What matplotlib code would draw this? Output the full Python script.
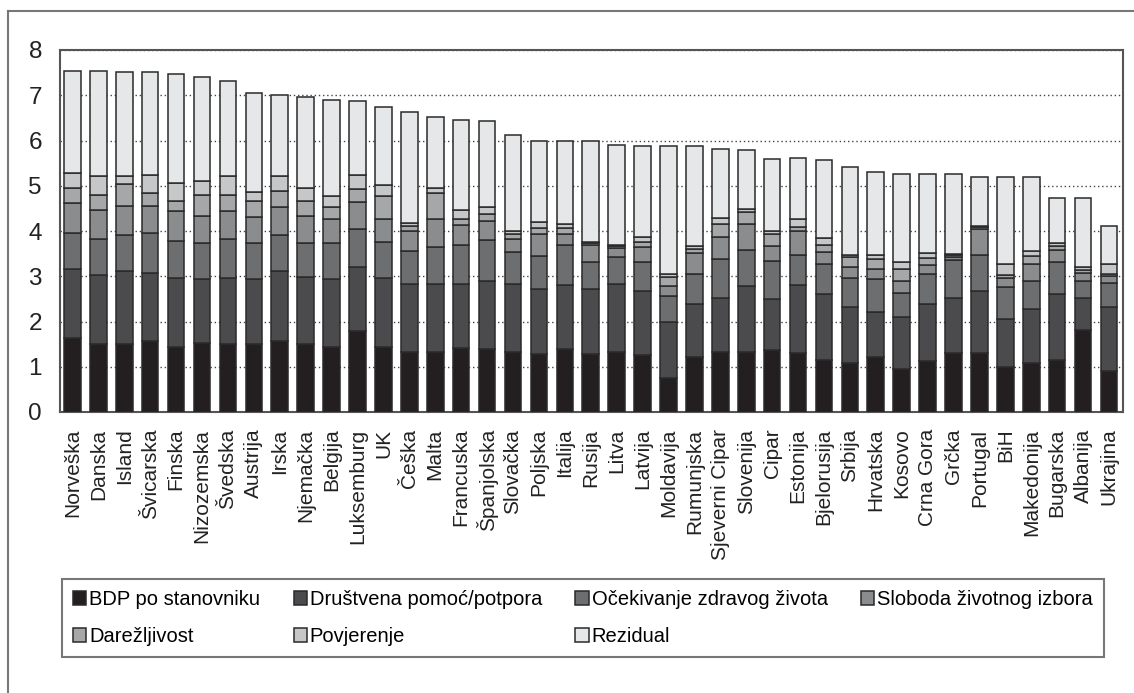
import numpy as np
import matplotlib
matplotlib.use("Agg")
from matplotlib import pyplot as plt
from matplotlib.lines import Line2D

plt.rcParams['font.family'] = ['Liberation Sans', 'DejaVu Sans']

countries = ["Norveška", "Danska", "Island", "Švicarska", "Finska", "Nizozemska",
             "Švedska", "Austrija", "Irska", "Njemačka", "Belgija", "Luksemburg",
             "UK", "Češka", "Malta", "Francuska", "Španjolska", "Slovačka",
             "Poljska", "Italija", "Rusija", "Litva", "Latvija", "Moldavija",
             "Rumunjska", "Sjeverni Cipar", "Slovenija", "Cipar", "Estonija",
             "Bjelorusija", "Srbija", "Hrvatska", "Kosovo", "Crna Gora", "Grčka",
             "Portugal", "BiH", "Makedonija", "Bugarska", "Albanija", "Ukrajina"]

# contributions
bdp = [1.63, 1.50, 1.50, 1.56, 1.44, 1.52, 1.50, 1.50, 1.56, 1.50, 1.44, 1.78,
       1.44, 1.32, 1.32, 1.41, 1.39, 1.32, 1.28, 1.39, 1.28, 1.32, 1.26, 0.76,
       1.22, 1.32, 1.32, 1.37, 1.31, 1.16, 1.09, 1.22, 0.94, 1.13, 1.30, 1.31,
       0.99, 1.09, 1.16, 1.81, 0.91]
drustvena = [1.52, 1.52, 1.61, 1.51, 1.52, 1.41, 1.46, 1.43, 1.55, 1.49, 1.50, 1.43,
             1.52, 1.51, 1.51, 1.42, 1.50, 1.51, 1.44, 1.42, 1.44, 1.51, 1.42, 1.24,
             1.17, 1.21, 1.47, 1.13, 1.50, 1.45, 1.22, 0.98, 1.15, 1.26, 1.23, 1.36,
             1.06, 1.18, 1.45, 0.71, 1.40]
ocekivanje = [0.80, 0.81, 0.80, 0.88, 0.82, 0.81, 0.87, 0.81, 0.80, 0.75, 0.80, 0.83,
              0.80, 0.72, 0.81, 0.87, 0.92, 0.70, 0.72, 0.89, 0.60, 0.60, 0.63, 0.57,
              0.66, 0.86, 0.79, 0.83, 0.67, 0.65, 0.65, 0.73, 0.55, 0.65, 0.82, 0.81,
              0.71, 0.62, 0.70, 0.37, 0.54]
sloboda = [0.66, 0.63, 0.65, 0.61, 0.66, 0.59, 0.61, 0.58, 0.61, 0.59, 0.53, 0.61,
           0.50, 0.45, 0.62, 0.43, 0.41, 0.30, 0.49, 0.24, 0.37, 0.20, 0.33, 0.21,
           0.47, 0.48, 0.57, 0.34, 0.52, 0.27, 0.24, 0.23, 0.26, 0.20, 0.07, 0.56,
           0.20, 0.37, 0.26, 0.19, 0.15]
darezljivost = [0.33, 0.34, 0.48, 0.29, 0.23, 0.47, 0.36, 0.35, 0.37, 0.34, 0.27, 0.28,
                0.52, 0.10, 0.57, 0.14, 0.15, 0.11, 0.14, 0.13, 0.05, 0.04, 0.12, 0.20,
                0.09, 0.28, 0.26, 0.26, 0.09, 0.17, 0.22, 0.23, 0.25, 0.17, 0.04, 0.05,
                0.06, 0.18, 0.10, 0.05, 0.04]
povjerenje = [0.34, 0.42, 0.18, 0.39, 0.38, 0.30, 0.42, 0.20, 0.33, 0.29, 0.24, 0.31,
              0.23, 0.07, 0.13, 0.19, 0.15, 0.07, 0.13, 0.09, 0.02, 0.03, 0.11, 0.06,
              0.06, 0.13, 0.07, 0.07, 0.18, 0.15, 0.04, 0.07, 0.16, 0.11, 0.04, 0.02,
              0.24, 0.12, 0.07, 0.07, 0.22]
rezidual = [2.25, 2.31, 2.30, 2.28, 2.43, 2.31, 2.10, 2.17, 1.78, 2.00, 2.12, 1.63,
            1.72, 2.46, 1.57, 2.00, 1.90, 2.12, 1.78, 1.82, 2.22, 2.21, 2.00, 2.83,
            2.20, 1.53, 1.31, 1.60, 1.34, 1.73, 1.95, 1.85, 1.96, 1.74, 1.76, 1.09,
            1.93, 1.63, 1.00, 1.52, 0.85]

series_names = ["BDP po stanovniku", "Društvena pomoć/potpora", "Očekivanje zdravog života",
                "Sloboda životnog izbora", "Darežljivost", "Povjerenje", "Rezidual"]
series = [bdp, drustvena, ocekivanje, sloboda, darezljivost, povjerenje, rezidual]
colors = ["#231f20", "#4b4b4d", "#6d6e70", "#8b8c8e", "#a6a7a9", "#c6c7c9", "#e6e7e8"]

fig = plt.figure(figsize=(11.34, 6.93), dpi=100)
ax = fig.add_axes([60 / 1134, 1 - 412 / 693, (1123 - 60) / 1134, (412 - 50) / 693])

x = np.arange(len(countries))
bottom = np.zeros(len(countries))
bars = []
for name, vals, col in zip(series_names, series, colors):
    b = ax.bar(x, vals, 0.64, bottom=bottom, color=col, edgecolor="#2a2a2a",
               linewidth=1.1, label=name, zorder=3)
    bars.append(b)
    bottom = bottom + np.array(vals)

ax.set_xlim(-0.48, 40.54)
ax.set_ylim(0, 8)
ax.set_yticks(range(9))
ax.set_xticks(x)
ax.set_xticklabels(countries, rotation=90, fontsize=15, va="top")
ax.tick_params(axis="y", length=0, pad=13, labelsize=17.5, labelcolor="#222222")
ax.tick_params(axis="x", length=0, pad=12, labelcolor="#222222")
ax.grid(axis="y", color="#444444", linestyle=(0, (1, 2)), linewidth=1, zorder=0)
for s in ax.spines.values():
    s.set_color("#555555")
    s.set_linewidth(1.5)

# legend filled row by row like the original
order = [0, 4, 1, 5, 2, 6, 3]
leg = fig.legend([bars[i] for i in order], [series_names[i] for i in order],
                 ncol=4, loc="upper left", mode="expand",
                 bbox_to_anchor=(62 / 1134, 1 - 579 / 693, (1104 - 62) / 1134, 0),
                 fontsize=14.5, frameon=True, fancybox=False, edgecolor="#555555",
                 handlelength=0.65, handleheight=0.65, handletextpad=0.15,
                 labelspacing=0.9, borderpad=0.55, borderaxespad=0)
leg.get_frame().set_linewidth(1.5)

# outer frame (only top and left are visible in the crop)
fig.add_artist(Line2D([8 / 1134, 1], [1 - 11 / 693, 1 - 11 / 693], color="#777777", lw=1.5))
fig.add_artist(Line2D([8 / 1134, 8 / 1134], [0, 1 - 11 / 693], color="#777777", lw=1.5))

fig.savefig("out.png", dpi=100)
